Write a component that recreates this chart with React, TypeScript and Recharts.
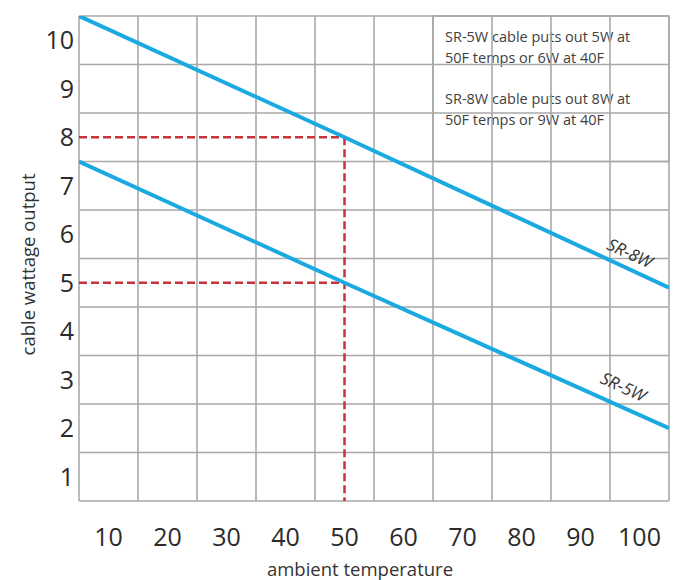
import {
  Label,
  Line,
  LineChart,
  ReferenceArea,
  ReferenceDot,
  ReferenceLine,
  XAxis,
  YAxis,
} from 'recharts';

// values
const sr8w = [
  { temp: 5, watts: 10.5 },
  { temp: 50, watts: 8 },
  { temp: 105, watts: 4.9 },
];
const sr5w = [
  { temp: 5, watts: 7.5 },
  { temp: 50, watts: 5 },
  { temp: 105, watts: 2.0 },
];

const tempTicks = [10, 20, 30, 40, 50, 60, 70, 80, 90, 100];
const wattTicks = [1, 2, 3, 4, 5, 6, 7, 8, 9, 10];
const gridTemps = [5, 15, 25, 35, 45, 55, 65, 75, 85, 95, 105];
const gridWatts = [0.5, 1.5, 2.5, 3.5, 4.5, 5.5, 6.5, 7.5, 8.5, 9.5, 10.5];

const noteLines = [
  'SR-5W cable puts out 5W at',
  '50F temps or 6W at 40F',
  '',
  'SR-8W cable puts out 8W at',
  '50F temps or 9W at 40F',
];

const seriesLabels = [
  { name: 'SR-8W', temp: 98.4, watts: 5.62 },
  { name: 'SR-5W', temp: 97.3, watts: 2.86 },
];

const FONT = '"Open Sans", sans-serif';
const GRID = '#a9a9a9';
const CYAN = '#1aa9e0';
const RED = '#c8323a';

function Note({ viewBox }: any) {
  const { x, y } = viewBox;
  return (
    <text x={x + 12} y={y + 26} fontFamily={FONT} fontSize={14.5} fill="#404040">
      {noteLines.map((line, i) => (
        <tspan key={i} x={x + 12} dy={i === 0 ? 0 : 20.8}>
          {line || ' '}
        </tspan>
      ))}
    </text>
  );
}

function SeriesTag({ viewBox, value }: any) {
  const cx = viewBox.cx ?? viewBox.x;
  const cy = viewBox.cy ?? viewBox.y;
  return (
    <text
      x={cx}
      y={cy}
      transform={`rotate(24.7 ${cx} ${cy})`}
      textAnchor="middle"
      dominantBaseline="central"
      fontFamily={FONT}
      fontSize={17}
      fontStyle="italic"
      fill="#333"
    >
      {value}
    </text>
  );
}

export default function App() {
  return (
    <div style={{ position: 'absolute', left: 0, top: 0, background: '#fff' }}>
      <LineChart width={673} height={580} margin={{ top: 16, right: 4, left: 0, bottom: 0 }}>
        <XAxis
          dataKey="temp"
          type="number"
          domain={[5, 105]}
          ticks={tempTicks}
          allowDataOverflow
          height={79}
          tickSize={0}
          tickMargin={27}
          axisLine={false}
          tick={{ fontSize: 25, fill: '#2b2b2b', fontFamily: FONT }}
        >
          <Label
            value="ambient temperature"
            position="insideBottom"
            offset={4}
            dx={-14}
            style={{ fontSize: 18.5, fill: '#333', fontFamily: FONT }}
          />
        </XAxis>
        <YAxis
          type="number"
          domain={[0.5, 10.5]}
          ticks={wattTicks}
          allowDataOverflow
          width={79}
          tickSize={0}
          tickMargin={5}
          axisLine={false}
          tick={{ fontSize: 25, fill: '#2b2b2b', fontFamily: FONT }}
        >
          <Label
            content={({ viewBox }: any) => {
              const x = viewBox.x + 27;
              const y = viewBox.y + viewBox.height / 2 + 6;
              return (
                <text
                  x={x}
                  y={y}
                  transform={`rotate(-90 ${x} ${y})`}
                  textAnchor="middle"
                  dominantBaseline="central"
                  fontFamily={FONT}
                  fontSize={18.5}
                  fill="#333"
                >
                  cable wattage output
                </text>
              );
            }}
          />
        </YAxis>

        {gridTemps.map((t) => (
          <ReferenceLine key={`gx${t}`} x={t} stroke={GRID} strokeWidth={1.6} />
        ))}
        {gridWatts.map((w) => (
          <ReferenceLine key={`gy${w}`} y={w} stroke={GRID} strokeWidth={1.6} />
        ))}

        <ReferenceArea
          x1={65}
          x2={105}
          y1={7.5}
          y2={10.5}
          fill="#fff"
          fillOpacity={1}
          stroke={GRID}
          strokeWidth={1.6}
          label={<Note />}
        />

        <ReferenceLine segment={[{ x: 5, y: 8 }, { x: 50, y: 8 }]} stroke={RED} strokeWidth={2.5} strokeDasharray="8 4" />
        <ReferenceLine segment={[{ x: 5, y: 5 }, { x: 50, y: 5 }]} stroke={RED} strokeWidth={2.5} strokeDasharray="8 4" />
        <ReferenceLine segment={[{ x: 50, y: 8 }, { x: 50, y: 0.5 }]} stroke={RED} strokeWidth={2.5} strokeDasharray="8 4" />

        <Line data={sr8w} dataKey="watts" stroke={CYAN} strokeWidth={4} dot={false} isAnimationActive={false} />
        <Line data={sr5w} dataKey="watts" stroke={CYAN} strokeWidth={4} dot={false} isAnimationActive={false} />

        {seriesLabels.map((s) => (
          <ReferenceDot
            key={s.name}
            x={s.temp}
            y={s.watts}
            r={0}
            stroke="none"
            fill="none"
            label={<SeriesTag value={s.name} />}
          />
        ))}
      </LineChart>
    </div>
  );
}
